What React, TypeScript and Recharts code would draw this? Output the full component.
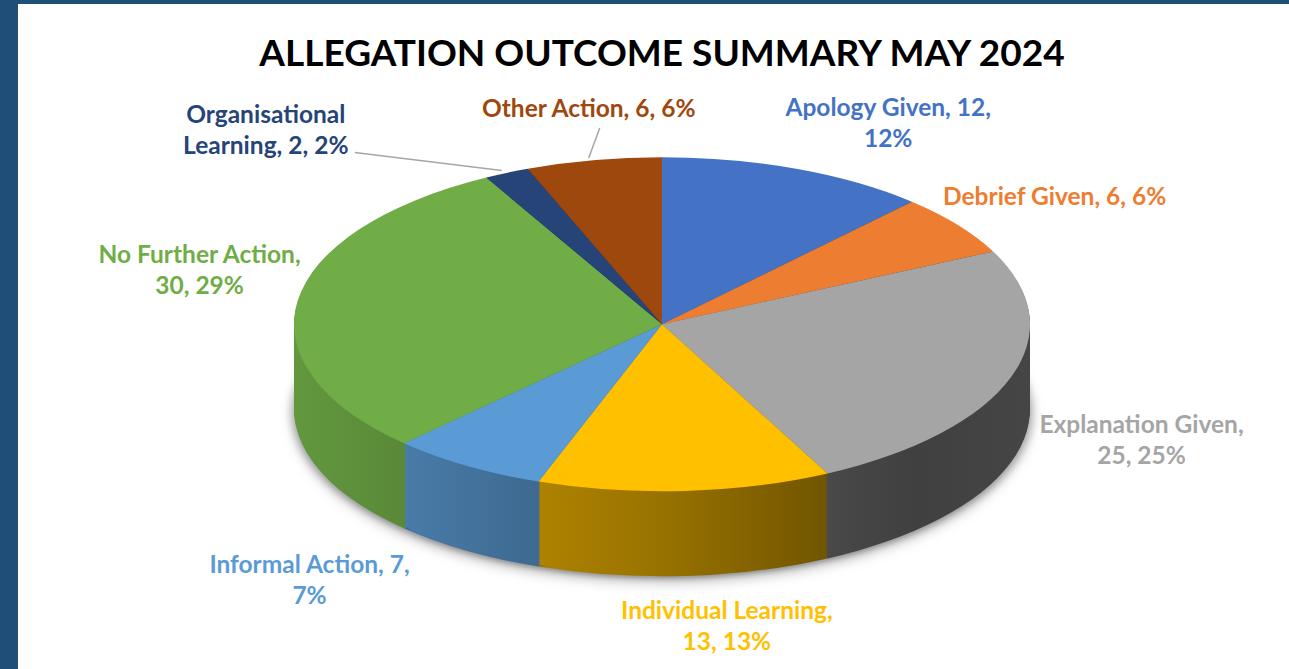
import { PieChart, Pie, Cell } from "recharts";

const categories = [
  "Apology Given",
  "Debrief Given",
  "Explanation Given",
  "Individual Learning",
  "Informal Action",
  "No Further Action",
  "Organisational Learning",
  "Other Action",
];
const counts = [12, 6, 25, 13, 7, 30, 2, 6];
const percents = [12, 6, 25, 13, 7, 29, 2, 6];
const colors = ["#4472C4", "#ED7D31", "#A5A5A5", "#FFC000", "#5B9BD5", "#70AD47", "#264478", "#9E480E"];
// words on the first line of each data label (0 = single line)
const firstLineWords = [3, 0, 2, 2, 3, 3, 1, 0];

const data = categories.map((name, i) => ({ name, value: counts[i] }));

// geometry of the tilted pie
const W = 1289;
const H = 669;
const CX = 657;
const CY = 322;
const RX = 368;
const RY = 167;
const K = RY / RX;
const DEPTH = 85;
const STEP = 2;
const FONT = "Lato, 'Open Sans', sans-serif";

// label centre offsets from the rim point at each slice's mid angle
const labelOffsets = [
  [97, -44],
  [102, -27],
  [136, 64],
  [47, 137],
  [-152, 116],
  [-93, -29],
  [-236, -41],
  [0, -50],
];
// leader line start relative to label centre (null = no leader)
const leaderStarts: (number[] | null)[] = [null, null, null, null, null, null, [89, 23], [11, 20]];

const sideStops = [
  [0, 0.88],
  [0.15, 0.8],
  [0.3, 0.7],
  [0.5, 0.6],
  [0.75, 0.43],
  [0.85, 0.39],
  [1, 0.42],
];

function shade(hex: string, f: number) {
  const n = parseInt(hex.slice(1), 16);
  const r = Math.round(((n >> 16) & 255) * f);
  const g = Math.round(((n >> 8) & 255) * f);
  const b = Math.round((n & 255) * f);
  return `rgb(${r},${g},${b})`;
}

const layers: number[] = [];
for (let d = DEPTH; d > 0; d -= STEP) layers.push(d);

const renderLabel = (props: any) => {
  const { index, midAngle } = props;
  const rad = (-midAngle * Math.PI) / 180;
  const ex = CX + RX * Math.cos(rad);
  const ey = CY + RY * Math.sin(rad);
  const lx = ex + labelOffsets[index][0];
  const ly = ey + labelOffsets[index][1];
  const words = `${categories[index]}, ${counts[index]}, ${percents[index]}%`.split(" ");
  const n = firstLineWords[index];
  const lines = n ? [words.slice(0, n).join(" "), words.slice(n).join(" ")] : [words.join(" ")];
  const lh = 31;
  const ls = leaderStarts[index];
  return (
    <g key={`label-${index}`}>
      {ls && (
        <polyline
          points={`${lx + ls[0]},${ly + ls[1]} ${ex},${ey}`}
          fill="none"
          stroke="#a6a6a6"
          strokeWidth={1.5}
        />
      )}
      <text textAnchor="middle" fontFamily={FONT} fontWeight={700} fontSize={24.5} fill={colors[index]}>
        {lines.map((t, j) => (
          <tspan key={j} x={lx} y={ly + (j - (lines.length - 1) / 2) * lh + 9}>
            {t}
          </tspan>
        ))}
      </text>
    </g>
  );
};

export default function App() {
  return (
    <div style={{ position: "relative", width: W, height: H, background: "#fff", overflow: "hidden" }}>
      <style>{`
        body { margin: 0; }
        .recharts-pie-sector {
          transform-box: view-box;
          transform-origin: ${CX}px ${CY}px;
          transform: scale(1, ${K});
        }
        .pie-shadow { filter: drop-shadow(0px 5px 6px rgba(0,0,0,0.28)); }
      `}</style>
      <div style={{ position: "absolute", left: 0, top: 0, width: 18, height: H, background: "#1F4E79" }} />
      <div style={{ position: "absolute", left: 0, top: 0, width: W, height: 4, background: "#1F4E79" }} />
      <div
        style={{
          position: "absolute",
          left: 162,
          top: 33,
          width: 1000,
          textAlign: "center",
          fontFamily: FONT,
          fontWeight: 700,
          fontSize: 37,
          lineHeight: "37px",
          color: "#000",
          whiteSpace: "nowrap",
        }}
      >
        ALLEGATION OUTCOME SUMMARY MAY 2024
      </div>
      <div style={{ position: "absolute", left: 0, top: 0 }}>
        <PieChart width={W} height={H}>
          <defs>
            {colors.map((c, i) => (
              <linearGradient key={i} id={`side-${i}`} gradientUnits="userSpaceOnUse" x1={CX - RX} x2={CX + RX} y1={0} y2={0}>
                {sideStops.map(([o, f]) => (
                  <stop key={o} offset={o} stopColor={shade(c, f)} />
                ))}
              </linearGradient>
            ))}
          </defs>
          {layers.map((d, li) => (
            <Pie
              key={`side-${d}`}
              className={li === 0 ? "pie-shadow" : undefined}
              data={data}
              dataKey="value"
              nameKey="name"
              cx={CX}
              cy={CY + d / K}
              outerRadius={RX}
              startAngle={90}
              endAngle={-270}
              stroke="none"
              isAnimationActive={false}
              label={false}
              labelLine={false}
            >
              {data.map((_, i) => (
                <Cell key={i} fill={`url(#side-${i})`} />
              ))}
            </Pie>
          ))}
          <Pie
            data={data}
            dataKey="value"
            nameKey="name"
            cx={CX}
            cy={CY}
            outerRadius={RX}
            startAngle={90}
            endAngle={-270}
            stroke="none"
            isAnimationActive={false}
            label={renderLabel}
            labelLine={false}
          >
            {data.map((_, i) => (
              <Cell key={i} fill={colors[i]} />
            ))}
          </Pie>
        </PieChart>
      </div>
    </div>
  );
}
